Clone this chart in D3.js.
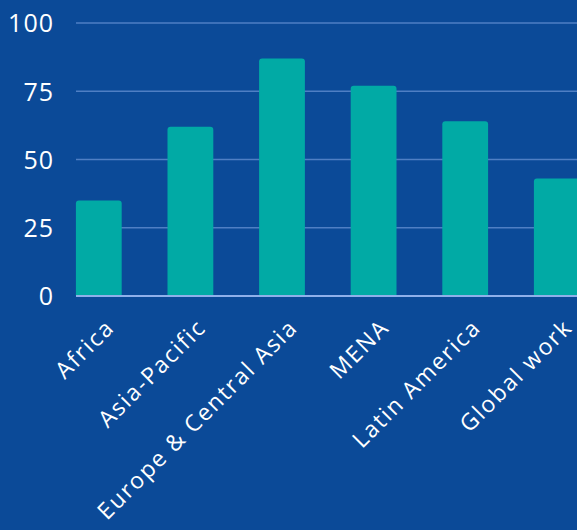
<!DOCTYPE html>
<html><head><meta charset="utf-8">
<script src="https://cdn.jsdelivr.net/npm/d3@7"></script>
<style>html,body{margin:0;padding:0;background:#0b4a98;overflow:hidden}</style>
</head><body><svg id="c" width="577" height="530"></svg>
<script>
const categories = ["Africa","Asia-Pacific","Europe & Central Asia","MENA","Latin America","Global work"];
const values = [35, 62, 87, 77, 64, 43];
const yTicks = [0, 25, 50, 75, 100];

const W = 577, H = 530;
const svg = d3.select("#c");
svg.append("rect").attr("width", W).attr("height", H).attr("fill", "#0b4a98");

const x = d3.scaleBand().domain(categories).range([53, 602.6]).paddingInner(0.5).paddingOuter(0.25);
const y = d3.scaleLinear().domain([0, 100]).range([296, 23]);
const font = "'Open Sans', sans-serif";

// gridlines
svg.append("g").selectAll("line").data(yTicks.filter(d => d > 0)).join("line")
  .attr("x1", 76).attr("x2", W).attr("y1", d => y(d)).attr("y2", d => y(d))
  .attr("stroke", "#4f7fc4").attr("stroke-width", 1.5);

// bars with rounded top corners
const r = 3;
svg.append("g").selectAll("path").data(values).join("path")
  .attr("fill", "#01aaa5")
  .attr("d", (d, i) => {
    const x0 = x(categories[i]), w = x.bandwidth(), y0 = y(d), yb = y(0);
    return `M${x0},${yb}V${y0 + r}Q${x0},${y0} ${x0 + r},${y0}H${x0 + w - r}Q${x0 + w},${y0} ${x0 + w},${y0 + r}V${yb}Z`;
  });

// baseline
svg.append("line").attr("x1", 76).attr("x2", W).attr("y1", y(0)).attr("y2", y(0))
  .attr("stroke", "#8fb0ea").attr("stroke-width", 2);

// y labels
const yAxis = d3.axisLeft(y).tickValues(yTicks).tickSize(0).tickPadding(0);
const gy = svg.append("g").attr("transform", "translate(54,0)").call(yAxis);
gy.select(".domain").remove();
gy.selectAll("text").attr("fill", "#ffffff").attr("font-family", font).attr("font-size", 25)
  .attr("letter-spacing", 1).attr("dy", "0.35em");

// x labels
const xAxis = d3.axisBottom(x).tickSize(0).tickPadding(0);
const gx = svg.append("g").attr("transform", `translate(0,${y(0)})`).call(xAxis);
gx.select(".domain").remove();
gx.selectAll("text").attr("fill", "#ffffff").attr("font-family", font).attr("font-size", 23)
  .attr("letter-spacing", 1.8)
  .attr("text-anchor", "end").attr("dy", null).attr("y", 0)
  .attr("transform", "translate(17,33) rotate(-45)");
</script></body></html>
